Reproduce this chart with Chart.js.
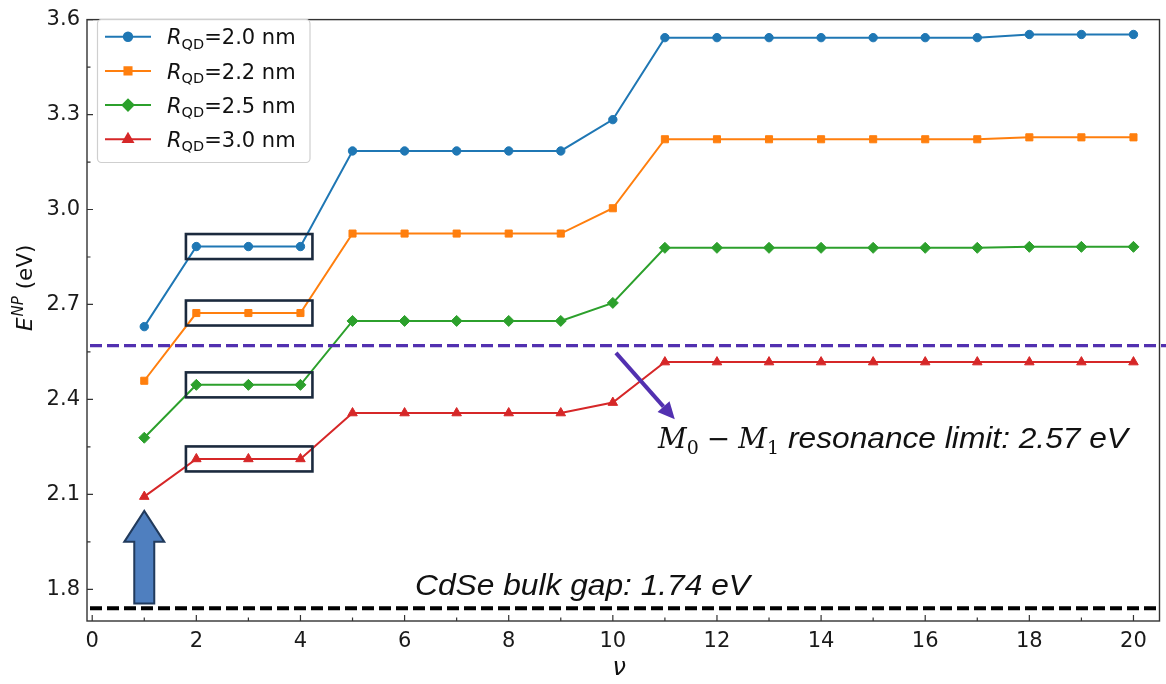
<!DOCTYPE html>
<html>
<head>
<meta charset="utf-8">
<script src="https://cdn.jsdelivr.net/npm/chart.js@4.4.1/dist/chart.umd.min.js"></script>
<style>
  html, body { margin: 0; padding: 0; background: #fff; }
  canvas { display: block; }
</style>
</head>
<body>
<canvas id="myChart" width="1166" height="684"></canvas>
<script>
// quantum number nu on the x axis
const nu = [1, 2, 3, 4, 5, 6, 7, 8, 9, 10, 11, 12, 13, 14, 15, 16, 17, 18, 19, 20];

// E^NP (eV) for each quantum dot radius
const energyR20 = [2.630, 2.883, 2.883, 2.883, 3.185, 3.185, 3.185, 3.185, 3.185, 3.284,
                   3.543, 3.543, 3.543, 3.543, 3.543, 3.543, 3.543, 3.553, 3.553, 3.553];
const energyR22 = [2.459, 2.673, 2.673, 2.673, 2.924, 2.924, 2.924, 2.924, 2.924, 3.004,
                   3.222, 3.222, 3.222, 3.222, 3.222, 3.222, 3.222, 3.228, 3.228, 3.228];
const energyR25 = [2.279, 2.446, 2.446, 2.446, 2.648, 2.648, 2.648, 2.648, 2.648, 2.705,
                   2.879, 2.879, 2.879, 2.879, 2.879, 2.879, 2.879, 2.882, 2.882, 2.882];
const energyR30 = [2.093, 2.212, 2.212, 2.212, 2.357, 2.357, 2.357, 2.357, 2.357, 2.390,
                   2.518, 2.518, 2.518, 2.518, 2.518, 2.518, 2.518, 2.518, 2.518, 2.518];

const radii = ['2.0', '2.2', '2.5', '3.0'];
const xTicks = [0, 2, 4, 6, 8, 10, 12, 14, 16, 18, 20];
const yTicks = [1.8, 2.1, 2.4, 2.7, 3.0, 3.3, 3.6];

const bulkGap = 1.74;
const resonanceLimit = 2.57;

const colors = ['#1f77b4', '#ff7f0e', '#2ca02c', '#d62728'];
const markers = [
  { pointStyle: 'circle', radius: 4.2 },
  { pointStyle: 'rect', radius: 5 },
  { pointStyle: 'rectRot', radius: 5.5 },
  { pointStyle: 'triangle', radius: 5.5 }
];

const allSeries = [energyR20, energyR22, energyR25, energyR30];

const datasets = allSeries.map(function(values, i) {
  return {
    label: 'R_QD=' + radii[i] + ' nm',
    data: values.map(function(v, k) { return { x: nu[k], y: v }; }),
    borderColor: colors[i],
    backgroundColor: colors[i],
    borderWidth: 2,
    tension: 0,
    pointStyle: markers[i].pointStyle,
    pointRadius: markers[i].radius,
    pointBorderWidth: 1,
    pointBackgroundColor: colors[i],
    pointBorderColor: colors[i]
  };
});

const sans = 'DejaVu Sans';
const purple = '#5230b0';

// frame, inward ticks, reference lines, boxes, arrows and text
const decorations = {
  id: 'decorations',
  afterDatasetsDraw(chart) {
    const ctx = chart.ctx;
    const xs = chart.scales.x;
    const ys = chart.scales.y;
    const a = chart.chartArea;
    ctx.save();

    // highlight boxes around the nu = 2..4 plateau
    ctx.strokeStyle = '#1b2a3e';
    ctx.lineWidth = 2.6;
    allSeries.forEach(function(values) {
      const cy = ys.getPixelForValue(values[1]);
      const x0 = xs.getPixelForValue(1.8);
      const x1 = xs.getPixelForValue(4.23);
      ctx.strokeRect(x0, cy - 12.5, x1 - x0, 25);
    });

    // bulk gap line
    ctx.setLineDash([12, 5]);
    ctx.lineWidth = 4;
    ctx.strokeStyle = '#000';
    let yy = ys.getPixelForValue(bulkGap);
    ctx.beginPath();
    ctx.moveTo(a.left + 3, yy);
    ctx.lineTo(a.right, yy);
    ctx.stroke();

    // resonance limit line
    ctx.lineWidth = 3.2;
    ctx.strokeStyle = purple;
    yy = ys.getPixelForValue(resonanceLimit);
    ctx.beginPath();
    ctx.moveTo(a.left + 3, yy);
    ctx.lineTo(chart.width, yy);
    ctx.stroke();
    ctx.setLineDash([]);

    // purple pointer arrow
    const sx = xs.getPixelForValue(10.06), sy = ys.getPixelForValue(2.547);
    const tx = xs.getPixelForValue(11.19), ty = ys.getPixelForValue(2.337);
    const ang = Math.atan2(ty - sy, tx - sx);
    const headLen = 17, headW = 8;
    const bx = tx - headLen * Math.cos(ang), by = ty - headLen * Math.sin(ang);
    ctx.lineWidth = 4;
    ctx.beginPath();
    ctx.moveTo(sx, sy);
    ctx.lineTo(bx, by);
    ctx.stroke();
    ctx.fillStyle = purple;
    ctx.beginPath();
    ctx.moveTo(tx, ty);
    ctx.lineTo(bx + headW * Math.sin(ang), by - headW * Math.cos(ang));
    ctx.lineTo(bx - headW * Math.sin(ang), by + headW * Math.cos(ang));
    ctx.closePath();
    ctx.fill();

    // block arrow under nu = 1
    const ax = xs.getPixelForValue(1);
    const aBot = ys.getPixelForValue(1.755);
    const aNeck = ys.getPixelForValue(1.95);
    const aTip = ys.getPixelForValue(2.048);
    ctx.beginPath();
    ctx.moveTo(ax - 10, aBot);
    ctx.lineTo(ax + 10, aBot);
    ctx.lineTo(ax + 10, aNeck);
    ctx.lineTo(ax + 20, aNeck);
    ctx.lineTo(ax, aTip);
    ctx.lineTo(ax - 20, aNeck);
    ctx.lineTo(ax - 10, aNeck);
    ctx.closePath();
    ctx.fillStyle = '#4f7fbf';
    ctx.fill();
    ctx.lineWidth = 2;
    ctx.strokeStyle = '#213a5c';
    ctx.stroke();

    // CdSe bulk gap label
    ctx.fillStyle = '#111';
    ctx.textBaseline = 'alphabetic';
    ctx.textAlign = 'left';
    ctx.font = 'italic 29px "Liberation Sans"';
    let txt = 'CdSe bulk gap: 1.74 eV';
    let w = ctx.measureText(txt).width;
    ctx.save();
    ctx.translate(415, 595);
    ctx.scale(335 / w, 1);
    ctx.fillText(txt, 0, 0);
    ctx.restore();

    // M0 - M1 resonance label
    let px = 658;
    const base = 448;
    const serif = '"DejaVu Serif"';
    ctx.font = 'italic 28px ' + serif;
    ctx.fillText('M', px, base);
    px += ctx.measureText('M').width;
    ctx.font = '19px ' + serif;
    ctx.fillText('0', px, base + 6);
    px += ctx.measureText('0').width + 8;
    ctx.font = '28px ' + serif;
    ctx.fillText('\u2212', px, base);
    px += ctx.measureText('\u2212').width + 8;
    ctx.font = 'italic 28px ' + serif;
    ctx.fillText('M', px, base);
    px += ctx.measureText('M').width;
    ctx.font = '19px ' + serif;
    ctx.fillText('1', px, base + 6);
    px += ctx.measureText('1').width + 9;
    ctx.font = 'italic 29px "Liberation Sans"';
    txt = 'resonance limit: 2.57 eV';
    w = ctx.measureText(txt).width;
    ctx.save();
    ctx.translate(px, base);
    ctx.scale((1128 - px) / w, 1);
    ctx.fillText(txt, 0, 0);
    ctx.restore();

    ctx.restore();
  },
  afterDraw(chart) {
    const ctx = chart.ctx;
    const xs = chart.scales.x;
    const ys = chart.scales.y;
    const a = chart.chartArea;
    ctx.save();

    // axes frame
    ctx.strokeStyle = '#333';
    ctx.lineWidth = 1.4;
    ctx.strokeRect(a.left, a.top, a.right - a.left, a.bottom - a.top);

    // inward ticks, major and minor
    ctx.lineWidth = 1.2;
    ctx.beginPath();
    xTicks.forEach(function(v) {
      const p = xs.getPixelForValue(v);
      ctx.moveTo(p, a.bottom); ctx.lineTo(p, a.bottom - 6);
      if (v < 20) {
        const m = xs.getPixelForValue(v + 1);
        ctx.moveTo(m, a.bottom); ctx.lineTo(m, a.bottom - 3.5);
      }
    });
    yTicks.forEach(function(v) {
      const p = ys.getPixelForValue(v);
      ctx.moveTo(a.left, p); ctx.lineTo(a.left + 6, p);
      if (v < 3.6) {
        const m = ys.getPixelForValue(v + 0.15);
        ctx.moveTo(a.left, m); ctx.lineTo(a.left + 3.5, m);
      }
    });
    ctx.stroke();

    // axis titles
    ctx.fillStyle = '#111';
    ctx.textBaseline = 'alphabetic';
    ctx.textAlign = 'center';
    ctx.font = 'italic 24px "' + sans + '"';
    ctx.fillText('\u03bd', (a.left + a.right) / 2 - 4, 675);

    ctx.save();
    ctx.translate(32, 331);
    ctx.rotate(-Math.PI / 2);
    ctx.textAlign = 'left';
    let px = 0;
    ctx.font = 'italic 21.5px "' + sans + '"';
    ctx.fillText('E', 0, 0);
    px += ctx.measureText('E').width + 1;
    ctx.font = 'italic 15px "' + sans + '"';
    ctx.fillText('NP', px, -9);
    px += ctx.measureText('NP').width;
    ctx.font = '21.5px "' + sans + '"';
    ctx.fillText(' (eV)', px, 0);
    ctx.restore();

    // legend
    const lx = 97.5, ly = 19.5, lw = 212.5, lh = 143;
    ctx.beginPath();
    ctx.roundRect(lx, ly, lw, lh, 4);
    ctx.fillStyle = 'rgba(255,255,255,0.85)';
    ctx.fill();
    ctx.strokeStyle = '#cfcfcf';
    ctx.lineWidth = 1.2;
    ctx.stroke();

    radii.forEach(function(r, i) {
      const cy = 36.7 + 34.2 * i;
      ctx.strokeStyle = colors[i];
      ctx.fillStyle = colors[i];
      ctx.lineWidth = 2;
      ctx.beginPath();
      ctx.moveTo(105, cy);
      ctx.lineTo(151, cy);
      ctx.stroke();
      Chart.helpers.drawPoint(ctx, {
        pointStyle: markers[i].pointStyle,
        radius: markers[i].radius,
        rotation: 0,
        borderWidth: 1
      }, 128, cy);

      ctx.fillStyle = '#111';
      ctx.textAlign = 'left';
      let tx = 167;
      const bl = cy + 7.6;
      ctx.font = 'italic 21px "' + sans + '"';
      ctx.fillText('R', tx, bl);
      tx += ctx.measureText('R').width;
      ctx.font = '14.5px "' + sans + '"';
      ctx.fillText('QD', tx, bl + 4.5);
      tx += ctx.measureText('QD').width;
      ctx.font = '21px "' + sans + '"';
      ctx.fillText('=' + r + ' nm', tx, bl);
    });

    ctx.restore();
  }
};

const ctx = document.getElementById('myChart');

new Chart(ctx, {
  type: 'line',
  data: { datasets: datasets },
  options: {
    responsive: false,
    animation: false,
    devicePixelRatio: 1,
    layout: { padding: { top: 8, right: 3, left: 0, bottom: 0 } },
    plugins: {
      legend: { display: false },
      tooltip: { enabled: false }
    },
    scales: {
      x: {
        type: 'linear',
        min: -0.1,
        max: 20.5,
        afterBuildTicks: function(s) { s.ticks = xTicks.map(function(v) { return { value: v }; }); },
        afterFit: function(s) { s.height = 63; },
        grid: { display: false, drawTicks: false },
        border: { display: false },
        ticks: {
          padding: 8,
          color: '#1a1a1a',
          maxRotation: 0,
          autoSkip: false,
          font: { family: sans, size: 21 },
          callback: function(v) { return String(v); }
        }
      },
      y: {
        type: 'linear',
        min: 1.70,
        max: 3.6,
        afterBuildTicks: function(s) { s.ticks = yTicks.map(function(v) { return { value: v }; }); },
        afterFit: function(s) { s.width = 87; },
        grid: { display: false, drawTicks: false },
        border: { display: false },
        ticks: {
          padding: 7,
          color: '#1a1a1a',
          autoSkip: false,
          font: { family: sans, size: 21 },
          callback: function(v) { return v.toFixed(1); }
        }
      }
    }
  },
  plugins: [decorations]
});
</script>
</body>
</html>
